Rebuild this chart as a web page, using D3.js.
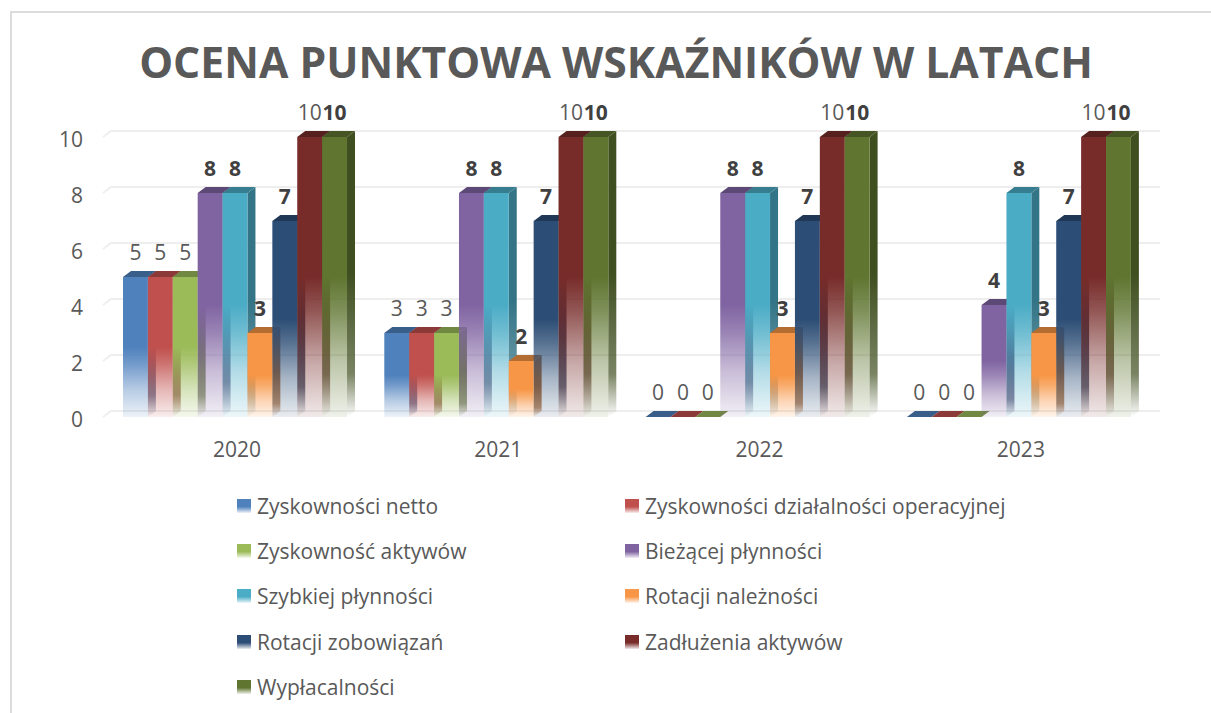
<!DOCTYPE html>
<html lang="pl">
<head>
<meta charset="utf-8">
<script src="https://cdn.jsdelivr.net/npm/d3@7"></script>
<style>
html,body{margin:0;padding:0;background:#fff;overflow:hidden}
svg{display:block}
text{font-family:"Open Sans",sans-serif}
</style>
</head>
<body>
<svg id="chart" width="1211" height="713"></svg>
<script>
const title = "OCENA PUNKTOWA WSKAŹNIKÓW W LATACH";
const years = ["2020", "2021", "2022", "2023"];
const yTicks = [0, 2, 4, 6, 8, 10];
const seriesNames = [
  "Zyskowności netto", "Zyskowności działalności operacyjnej",
  "Zyskowność aktywów", "Bieżącej płynności",
  "Szybkiej płynności", "Rotacji należności",
  "Rotacji zobowiązań", "Zadłużenia aktywów",
  "Wypłacalności"
];
const zyskNetto = [5, 3, 0, 0];
const zyskOperacyjna = [5, 3, 0, 0];
const zyskAktywow = [5, 3, 0, 0];
const biezacaPlynnosc = [8, 8, 8, 4];
const szybkaPlynnosc = [8, 8, 8, 8];
const rotacjaNaleznosci = [3, 2, 3, 3];
const rotacjaZobowiazan = [7, 7, 7, 7];
const zadluzenieAktywow = [10, 10, 10, 10];
const wyplacalnosc = [10, 10, 10, 10];
const seriesValues = [zyskNetto, zyskOperacyjna, zyskAktywow, biezacaPlynnosc,
  szybkaPlynnosc, rotacjaNaleznosci, rotacjaZobowiazan, zadluzenieAktywow, wyplacalnosc];
const colors = ["#4F81BD", "#C0504D", "#9BBB59", "#8064A2", "#4BACC6", "#F79646", "#2C4D75", "#772C2A", "#5F7530"];
const boldLabel = [false, false, false, true, true, true, true, false, true];

const depthX = 8, depthY = -6;
const svg = d3.select("#chart");
const defs = svg.append("defs");
const gray = "#595959";

const x0 = d3.scaleBand().domain(years).range([104.35, 1149.55]).paddingInner(0.1427).paddingOuter(0.0714);
const x1 = d3.scaleBand().domain(d3.range(seriesNames.length)).range([0, x0.bandwidth()]);
const y = d3.scaleLinear().domain([0, 10]).range([417, 137]);

// frame
svg.append("path").attr("d", "M11,713V12H1211").attr("fill", "none").attr("stroke", "#dcdcdc").attr("stroke-width", 2);

// title
svg.append("text").attr("x", 616).attr("y", 78).attr("text-anchor", "middle")
  .attr("font-size", 42.7).attr("font-weight", 700).attr("fill", gray).text(title);

// gradients
function grad(id, stops) {
  const g = defs.append("linearGradient").attr("id", id).attr("x1", 0).attr("y1", 0).attr("x2", 0).attr("y2", 1);
  stops.forEach(s => g.append("stop").attr("offset", s[0]).attr("stop-color", s[1]).attr("stop-opacity", s[2]));
}
colors.forEach((c, i) => {
  const side = d3.rgb(c).darker(1.1).formatHex();
  grad("front" + i, [[0, c, 1], [0.5, c, 1], [0.62, c, 0.8], [0.8, c, 0.42], [1, c, 0.1]]);
  grad("side" + i, [[0, side, 1], [0.5, side, 1], [0.85, side, 0.7], [1, side, 0]]);
  grad("leg" + i, [[0, c, 1], [0.55, c, 1], [1, c, 0.1]]);
});

// gridlines on the back wall and left wall
const grid = svg.append("g").attr("fill", "none").attr("stroke", "#eeeeee").attr("stroke-width", 2);
grid.selectAll("path").data(yTicks).join("path")
  .attr("d", t => `M103,${y(t)}L${103 + depthX},${y(t) + depthY}H1160`);

// y axis labels
svg.append("g").selectAll("text").data(yTicks).join("text")
  .attr("x", 83).attr("y", t => y(t) + 9.5).attr("text-anchor", "end")
  .attr("font-size", 21).attr("fill", gray).text(t => t);

// category labels
svg.append("g").selectAll("text").data(years).join("text")
  .attr("x", d => x0(d) + x0.bandwidth() / 2 + 2).attr("y", 457).attr("text-anchor", "middle")
  .attr("font-size", 21).attr("fill", gray).text(d => d);

// bars
const bars = [];
years.forEach((yr, yi) => seriesValues.forEach((vals, si) => bars.push({yr, si, v: vals[yi]})));
const pts = a => a.map(p => p.join(",")).join(" ");
const barG = svg.append("g");
bars.forEach(b => {
  const l = x0(b.yr) + x1(b.si), w = x1.bandwidth(), r = l + w, t = y(b.v), base = y(0);
  const g = barG.append("g");
  const topC = d3.rgb(colors[b.si]).darker(0.9).formatHex();
  if (b.v > 0) {
    g.append("polygon").attr("points", pts([[r, t], [r + depthX, t + depthY], [r + depthX, base + depthY], [r, base]]))
      .attr("fill", `url(#side${b.si})`);
    g.append("rect").attr("x", l).attr("y", t).attr("width", w).attr("height", base - t)
      .attr("fill", `url(#front${b.si})`);
  }
  g.append("polygon").attr("points", pts([[l, t], [l + depthX, t + depthY], [r + depthX, t + depthY], [r, t]]))
    .attr("fill", topC);
});

// data labels
svg.append("g").selectAll("text").data(bars).join("text")
  .attr("x", d => x0(d.yr) + x1(d.si) + x1.bandwidth() / 2)
  .attr("y", d => y(d.v) - 17).attr("text-anchor", "middle")
  .attr("font-size", 21)
  .attr("font-weight", d => boldLabel[d.si] ? 700 : 400)
  .attr("fill", d => boldLabel[d.si] ? "#404040" : gray)
  .text(d => d.v);

// legend
const legendRows = [506, 551, 596, 642, 687];
const legendCols = [237, 625];
const legend = svg.append("g").selectAll("g").data(seriesNames).join("g")
  .attr("transform", (d, i) => `translate(${legendCols[i % 2]},${legendRows[Math.floor(i / 2)]})`);
legend.append("rect").attr("x", 0).attr("y", -7).attr("width", 14).attr("height", 14)
  .attr("fill", (d, i) => `url(#leg${i})`);
legend.append("text").attr("x", 20).attr("y", 7.5)
  .attr("font-size", 21).attr("fill", gray).text(d => d);
</script>
</body>
</html>
